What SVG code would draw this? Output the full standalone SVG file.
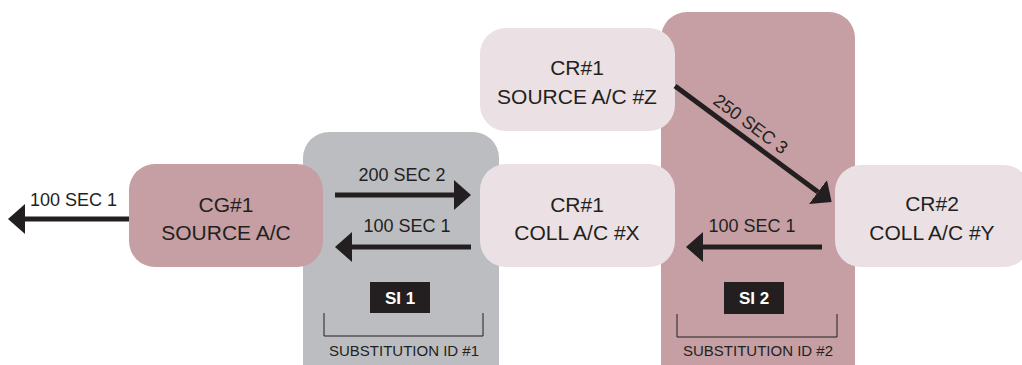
<svg xmlns="http://www.w3.org/2000/svg" width="1022" height="365" viewBox="0 0 1022 365">
<defs>
<style>
.t{font-family:"Liberation Sans",Arial,sans-serif;fill:#231f20}
.nt{font-size:21px;text-anchor:middle}
.lb{font-size:18px}
.sub{font-size:15px;text-anchor:middle}
.si{font-family:"Liberation Sans",Arial,sans-serif;font-weight:bold;font-size:17px;fill:#ffffff;text-anchor:middle}
.arr{stroke:#231f20;stroke-width:5;fill:none}
.br{stroke:#231f20;stroke-width:1;fill:none}
</style>
<marker id="ah" markerUnits="userSpaceOnUse" markerWidth="17" markerHeight="30" viewBox="0 0 17 30" refX="0" refY="15" orient="auto">
<path d="M0,0 L17,15 L0,30 Z" fill="#231f20"/>
</marker>
</defs>
<rect width="1022" height="365" fill="#ffffff"/>
<g id="panel-si1">
<rect x="303" y="132" width="196" height="260" rx="26" fill="#bcbdc0"/>
<rect x="370" y="282" width="60" height="31" fill="#231f20"/>
<text class="si" x="400" y="304">SI 1</text>
<path class="br" d="M324,313 V336 H483 V313"/>
<text class="t sub" x="404" y="356">SUBSTITUTION ID #1</text>
</g>
<g id="panel-si2">
<rect x="661" y="12" width="194" height="380" rx="26" fill="#c59fa4"/>
<rect x="724" y="282" width="60" height="32" fill="#231f20"/>
<text class="si" x="754" y="304">SI 2</text>
<path class="br" d="M677,314 V337 H837 V314"/>
<text class="t sub" x="758" y="356">SUBSTITUTION ID #2</text>
</g>
<g id="cg1">
<rect x="129" y="164" width="194" height="103" rx="26" fill="#c59fa4"/>
<text class="t nt" x="226" y="212">CG#1</text>
<text class="t nt" x="226" y="240">SOURCE A/C</text>
</g>
<g id="cr1-source">
<rect x="480" y="28" width="195" height="103" rx="26" fill="#ebe0e3"/>
<text class="t nt" x="577" y="75">CR#1</text>
<text class="t nt" x="577" y="104">SOURCE A/C #Z</text>
</g>
<g id="cr1-coll">
<rect x="480" y="164" width="195" height="103" rx="26" fill="#ebe0e3"/>
<text class="t nt" x="577" y="212">CR#1</text>
<text class="t nt" x="577" y="240">COLL A/C #X</text>
</g>
<g id="cr2-coll">
<rect x="835" y="165" width="195" height="102" rx="26" fill="#ebe0e3"/>
<text class="t nt" x="932" y="211">CR#2</text>
<text class="t nt" x="932" y="240">COLL A/C #Y</text>
</g>
<g id="connectors">
<line class="arr" x1="129" y1="219" x2="25" y2="219" marker-end="url(#ah)"/>
<text class="t lb" x="30" y="206">100 SEC 1</text>
<line class="arr" x1="335" y1="195" x2="454" y2="195" marker-end="url(#ah)"/>
<text class="t lb" x="402" y="181" text-anchor="middle">200 SEC 2</text>
<line class="arr" x1="471" y1="247" x2="352" y2="247" marker-end="url(#ah)"/>
<text class="t lb" x="407" y="232" text-anchor="middle">100 SEC 1</text>
<line class="arr" x1="822" y1="247" x2="703" y2="247" marker-end="url(#ah)"/>
<text class="t lb" x="752" y="232" text-anchor="middle">100 SEC 1</text>
<line class="arr" stroke-width="4" x1="675" y1="86" x2="818" y2="192" marker-end="url(#ah)"/>
<text class="t lb" x="747" y="129" text-anchor="middle" transform="rotate(36.5 747 129)">250 SEC 3</text>
</g>
</svg>
